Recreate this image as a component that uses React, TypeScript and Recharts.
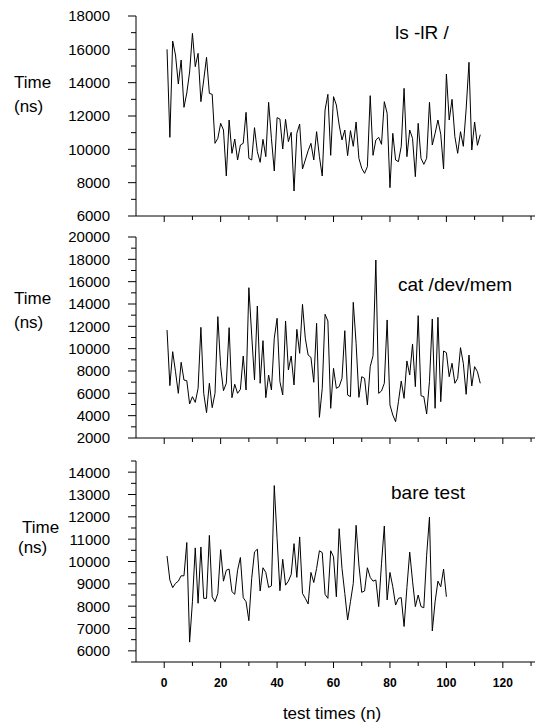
import React from 'react'
import { LineChart, Line, XAxis, YAxis } from 'recharts'

// ls -lR /  (ns), test 1..112
const lsTimes = [
  16000, 10720, 16500, 15660, 13920, 15360, 12520, 13380, 14640, 16960,
  14960, 15760, 12860, 14160, 15520, 13360, 13300, 10360, 10660, 11560,
  11160, 8400, 11760, 9760, 10620, 9360, 10260, 10360, 12220, 9460,
  9360, 11300, 9860, 9220, 10600, 9560, 12820, 10640, 8700, 11900,
  11820, 10020, 11800, 10460, 11020, 7500, 10960, 11520, 8820, 9360,
  9920, 10360, 9360, 11060, 9560, 8400, 12360, 13300, 9640, 13160,
  12660, 11460, 10560, 11160, 9620, 11120, 10180, 11640, 9460, 8860,
  8560, 8960, 13220, 9640, 10560, 10720, 10300, 12860, 12160, 7700,
  10960, 9360, 9260, 10180, 13660, 9560, 11160, 10660, 8360, 11560,
  9460, 9100, 9460, 12820, 10260, 10960, 11760, 10900, 8820, 14520,
  11760, 13000, 10760, 9760, 11060, 10180, 12420, 15220, 9960, 11640,
  10240, 10880,
]

// cat /dev/mem (ns), test 1..112
const catTimes = [
  11670, 6690, 9730, 7940, 6000, 8780, 7190, 7130, 5050, 5700,
  5190, 6450, 11910, 6000, 4270, 6900, 4720, 6000, 12870, 8390,
  6240, 6900, 11880, 5610, 6810, 6000, 6360, 9340, 6300, 15460,
  11220, 7190, 13820, 6900, 10720, 5610, 7640, 6300, 10930, 12720,
  7050, 5850, 12480, 8090, 9340, 6750, 11730, 9580, 13970, 10930,
  9430, 9220, 6990, 12270, 3850, 6450, 13080, 12480, 4660, 8240,
  6450, 6600, 7340, 11610, 5850, 5700, 14150, 10480, 5640, 7490,
  7340, 4960, 8390, 9370, 17940, 6000, 6210, 6900, 12570, 4960,
  4060, 3460, 5250, 7100, 5550, 8900, 7640, 10420, 6600, 12960,
  5790, 5700, 4150, 7050, 12660, 4660, 12810, 5250, 9790, 9640,
  7490, 8690, 6900, 7340, 10090, 8690, 5910, 9430, 6660, 8390,
  7940, 6900,
]

// bare test (ns), test 1..100
const bareTimes = [
  10250, 9170, 8830, 9020, 9120, 9360, 9360, 10850, 6390, 8200,
  10610, 8130, 10650, 8350, 8350, 11170, 8420, 8200, 8570, 10530,
  9120, 9610, 9660, 8650, 8530, 9610, 10180, 8380, 8200, 7350,
  9240, 10430, 10550, 8680, 9720, 9510, 8840, 8910, 13400, 11030,
  8690, 10100, 8940, 9120, 9420, 10800, 9290, 11100, 8570, 8350,
  8100, 9510, 9060, 9690, 10480, 10400, 8530, 8350, 10480, 10210,
  8420, 11470, 9690, 8570, 7380, 8200, 9020, 11620, 9840, 8620,
  8680, 9720, 9290, 9120, 9170, 7980, 9900, 11590, 8280, 9510,
  8870, 8050, 8350, 8380, 7090, 8830, 10420, 9120, 7980, 8500,
  7980, 7930, 10280, 11990, 6890, 8200, 9120, 8870, 9660, 8420,
]

const xTicks = [0, 10, 20, 30, 40, 50, 60, 70, 80, 90, 100, 110, 120, 130]
const lsTicks = [6000, 7000, 8000, 9000, 10000, 11000, 12000, 13000, 14000, 15000, 16000, 17000, 18000]
const catTicks = [
  2000, 3000, 4000, 5000, 6000, 7000, 8000, 9000, 10000, 11000,
  12000, 13000, 14000, 15000, 16000, 17000, 18000, 19000, 20000,
]
const bareTicks = [
  5500, 6000, 6500, 7000, 7500, 8000, 8500, 9000, 9500, 10000,
  10500, 11000, 11500, 12000, 12500, 13000, 13500, 14000, 14500,
]

const FONT = '"Liberation Sans", Arial, sans-serif'

const toRows = (vals: number[]) => vals.map((t, i) => ({ n: i + 1, t }))

const makeYTick = (step: number) => (p: any) => {
  const { x, y, payload } = p
  const major = payload.value % step === 0
  return (
    <g>
      <line x1={x - (major ? 8 : 5)} x2={x} y1={y} y2={y} stroke="#000" />
      {major && (
        <text x={x - 26} y={y} dy="0.36em" textAnchor="end" fontSize={15} fontFamily={FONT} fill="#000">
          {payload.value}
        </text>
      )}
    </g>
  )
}

const makeXTick = (labels: boolean) => (p: any) => {
  const { x, y, payload } = p
  const major = payload.value % 20 === 0
  return (
    <g>
      <line x1={x} x2={x} y1={y} y2={y + (major ? 6 : 4)} stroke="#000" />
      {labels && major && (
        <text x={x} y={y + 20.5} dy="0.36em" textAnchor="middle" fontSize={12} fontWeight="bold" fontFamily={FONT} fill="#000">
          {payload.value}
        </text>
      )}
    </g>
  )
}

interface PanelProps {
  values: number[]
  top: number
  height: number
  marginTop: number
  xAxisHeight: number
  domain: [number, number]
  ticks: number[]
  step: number
  labels: boolean
}

const Panel = ({ values, top, height, marginTop, xAxisHeight, domain, ticks, step, labels }: PanelProps) => (
  <div style={{ position: 'absolute', left: 0, top }}>
    <LineChart width={535} height={height} data={toRows(values)} margin={{ top: marginTop, right: 0, bottom: 0, left: 0 }}>
      <XAxis
        dataKey="n"
        type="number"
        domain={[-10, 131.4]}
        allowDataOverflow
        ticks={xTicks}
        interval={0}
        height={xAxisHeight}
        tickSize={0}
        tickMargin={0}
        tickLine={false}
        axisLine={{ stroke: '#000' }}
        tick={makeXTick(labels)}
      />
      <YAxis
        type="number"
        domain={domain}
        allowDataOverflow
        ticks={ticks}
        interval={0}
        width={136}
        tickSize={0}
        tickMargin={0}
        tickLine={false}
        axisLine={{ stroke: '#000' }}
        tick={makeYTick(step)}
      />
      <Line dataKey="t" type="linear" stroke="#000" strokeWidth={1} dot={false} isAnimationActive={false} />
    </LineChart>
  </div>
)

const label = (text: string, left: number, top: number, size: number) => (
  <div
    style={{
      position: 'absolute',
      left,
      top,
      transform: 'translateY(-50%)',
      fontFamily: FONT,
      fontSize: size,
      lineHeight: 1,
      whiteSpace: 'nowrap',
      color: '#000',
    }}
  >
    {text}
  </div>
)

const App = () => {
  return (
    <div style={{ position: 'absolute', left: 0, top: 0, width: 535, height: 725, background: '#fff' }}>
      <Panel values={lsTimes} top={0} height={224} marginTop={16} xAxisHeight={8} domain={[6000, 18000]} ticks={lsTicks} step={2000} labels={false} />
      <Panel values={catTimes} top={224} height={226} marginTop={13} xAxisHeight={12} domain={[2000, 20000]} ticks={catTicks} step={2000} labels={false} />
      <Panel values={bareTimes} top={450} height={275} marginTop={11} xAxisHeight={63} domain={[5500, 14500]} ticks={bareTicks} step={1000} labels={true} />

      {label('Time', 14, 82, 17)}
      {label('(ns)', 14, 106, 17)}
      {label('Time', 14, 298, 17)}
      {label('(ns)', 14, 322, 17)}
      {label('Time', 22, 527, 17)}
      {label('(ns)', 18, 547, 17)}

      {label('ls -lR /', 395, 32, 19)}
      {label('cat /dev/mem', 398, 284, 19)}
      {label('bare test', 391, 492, 19)}

      <div
        style={{
          position: 'absolute',
          left: 0,
          width: 664,
          top: 713,
          transform: 'translateY(-50%)',
          textAlign: 'center',
          fontFamily: FONT,
          fontSize: 17,
          lineHeight: 1,
          color: '#000',
        }}
      >
        test times (n)
      </div>
    </div>
  )
}

export default App
